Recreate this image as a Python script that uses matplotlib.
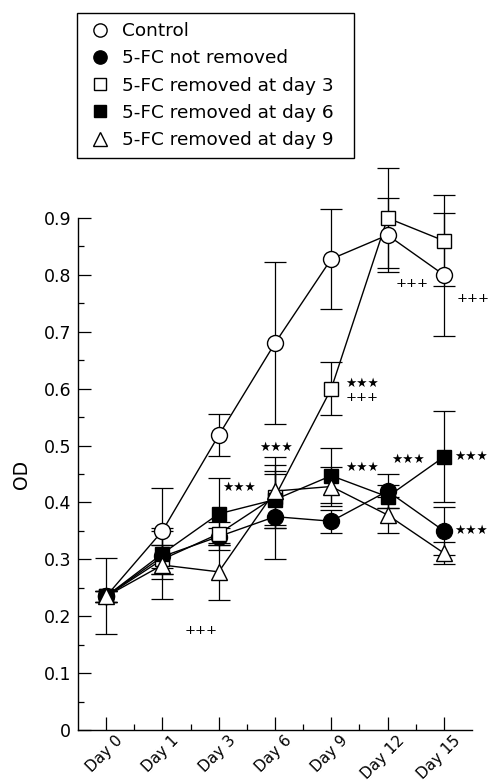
import matplotlib
matplotlib.use("Agg")
import matplotlib.pyplot as plt
from matplotlib.lines import Line2D
from matplotlib.transforms import ScaledTranslation

plt.rcParams['font.family'] = ['DejaVu Sans']

days = ['Day 0', 'Day 1', 'Day 3', 'Day 6', 'Day 9', 'Day 12', 'Day 15']

control = [0.235, 0.35, 0.518, 0.68, 0.828, 0.87, 0.80]
control_err = [0.067, 0.075, 0.037, 0.142, 0.088, 0.065, 0.108]

not_removed = [0.235, 0.305, 0.34, 0.375, 0.367, 0.42, 0.35]
not_removed_err = [0.01, 0.02, 0.015, 0.075, 0.02, 0.03, 0.042]

removed_d3 = [0.235, 0.30, 0.345, 0.41, 0.60, 0.90, 0.86]
removed_d3_err = [0.01, 0.025, 0.02, 0.055, 0.047, 0.088, 0.08]

removed_d6 = [0.235, 0.31, 0.38, 0.405, 0.447, 0.41, 0.48]
removed_d6_err = [0.01, 0.045, 0.063, 0.05, 0.048, 0.02, 0.08]

removed_d9 = [0.235, 0.29, 0.278, 0.42, 0.428, 0.378, 0.311]
removed_d9_err = [0.01, 0.06, 0.05, 0.06, 0.035, 0.032, 0.02]

series_labels = ['Control', '5-FC not removed', '5-FC removed at day 3',
                 '5-FC removed at day 6', '5-FC removed at day 9']

# significance marks: (text, x position in category units, y value)
sig_text = ['+++', '★★★', '★★★', '★★★', '+++', '★★★', '★★★', '+++', '+++', '★★★', '★★★']
sig_x = [1.69, 2.36, 3.02, 4.55, 4.55, 4.55, 5.37, 5.43, 6.52, 6.49, 6.49]
sig_y = [0.175, 0.426, 0.496, 0.61, 0.584, 0.462, 0.475, 0.785, 0.759, 0.481, 0.35]

y_ticks = [0, 0.1, 0.2, 0.3, 0.4, 0.5, 0.6, 0.7, 0.8, 0.9]
y_ticklabels = ['0', '0.1', '0.2', '0.3', '0.4', '0.5', '0.6', '0.7', '0.8', '0.9']

W, H = 491, 783
fig = plt.figure(figsize=(W / 100, H / 100), dpi=100)
ax = fig.add_axes([78 / W, 53 / H, 394 / W, 512 / H])

x = list(range(len(days)))
styles = [
    dict(marker='o', ms=11.5, mfc='white'),
    dict(marker='o', ms=11.5, mfc='black'),
    dict(marker='s', ms=10.5, mfc='white'),
    dict(marker='s', ms=10.5, mfc='black'),
    dict(marker='^', ms=11.5, mfc='white'),
]
data = [control, not_removed, removed_d3, removed_d6, removed_d9]
errs = [control_err, not_removed_err, removed_d3_err, removed_d6_err, removed_d9_err]

for vals, e in zip(data, errs):
    cont = ax.errorbar(x, vals, yerr=e, fmt='none', ecolor='black',
                       elinewidth=0.9, capsize=7.8, capthick=0.9, zorder=2)
    for art in list(cont.lines[1]) + list(cont.lines[2]):
        art.set_clip_on(False)

for vals in data:
    ax.plot(x, vals, color='black', lw=1.0, zorder=3, clip_on=False)

for i, (vals, st) in enumerate(zip(data, styles)):
    ax.plot(x, vals, linestyle='none', marker=st['marker'], ms=st['ms'],
            mfc=st['mfc'], mec='black', mew=1.0, zorder=4 + i, clip_on=False)

for s, sx, sy in zip(sig_text, sig_x, sig_y):
    fs = 9 if '★' in s else 9.5
    ax.text(sx, sy, s, ha='center', va='center', fontsize=fs, zorder=10)

ax.set_xlim(-0.5, 6.5)
ax.set_ylim(0, 0.9)
ax.spines['top'].set_visible(False)
ax.spines['right'].set_visible(False)
for sp in ('left', 'bottom'):
    ax.spines[sp].set_linewidth(1.0)

ax.set_yticks(y_ticks, y_ticklabels)
ax.set_yticks([0.05 + 0.1 * k for k in range(9)], minor=True)
ax.set_xticks(x)
ax.set_xticks([0.5 + k for k in range(6)], minor=True)
ax.set_xticklabels(days, rotation=45, ha='right', rotation_mode='anchor')
ax.tick_params(axis='both', which='major', direction='in', length=9.5, width=0.9)
ax.tick_params(axis='y', which='major', pad=5, labelsize=12.5)
ax.tick_params(axis='x', which='major', pad=2, labelsize=11)
ax.tick_params(axis='both', which='minor', direction='in', length=4, width=0.9)

offset = ScaledTranslation(0.09, 0, fig.dpi_scale_trans)
for lab in ax.get_xticklabels():
    lab.set_transform(lab.get_transform() + offset)

fig.text(21 / W, 1 - 474 / H, 'OD', rotation=90, fontsize=13.5, ha='center', va='center')

handles = [Line2D([], [], linestyle='none', marker=st['marker'], ms=st['ms'] * 0.83,
                  mfc=st['mfc'], mec='black', mew=1.0) for st in styles]
leg = ax.legend(handles, series_labels, loc='upper left',
                bbox_to_anchor=(77 / W, 1 - 181 / H, 277 / W, 168 / H),
                bbox_transform=fig.transFigure, mode='expand', borderaxespad=0,
                borderpad=0.5, handlelength=1.5, handletextpad=0.45,
                labelspacing=0.5, fontsize=13.3, fancybox=False, framealpha=1)
leg.get_frame().set_edgecolor('black')
leg.get_frame().set_linewidth(1.0)

fig.savefig('out.png', dpi=100)
